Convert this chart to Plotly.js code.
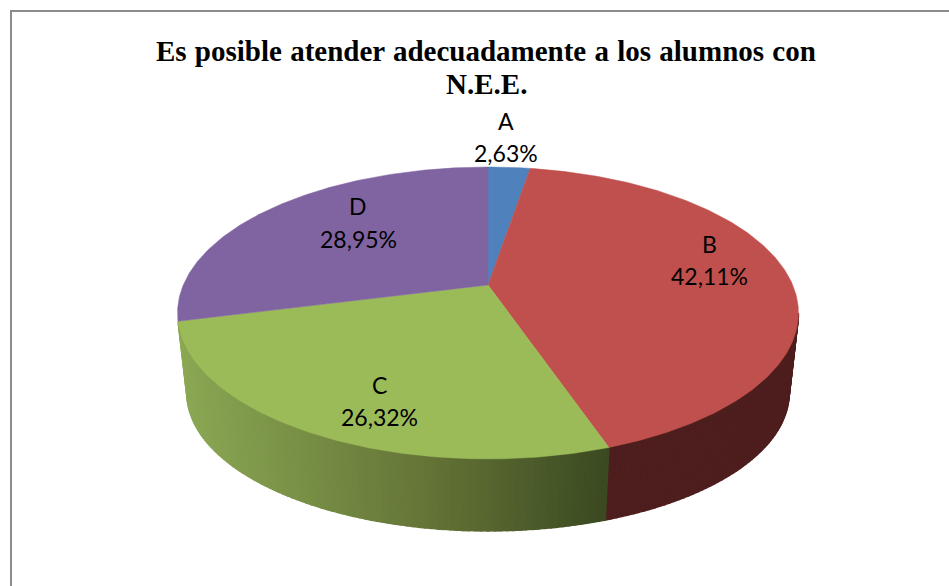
<!DOCTYPE html>
<html><head><meta charset="utf-8">
<script src="https://cdn.plot.ly/plotly-3.0.1.min.js"></script>
<style>html,body{margin:0;padding:0;background:#fff}#c{width:949px;height:586px}.gtitle{word-spacing:1px}</style>
</head><body><div id="c"></div>
<script>
// ---- data ----
const categories = ["A", "B", "C", "D"];
const percentages = [2.63, 42.11, 26.32, 28.95];
const titleLine1 = "Es posible atender adecuadamente a los alumnos con";
const titleLine2 = "N.E.E.";
// ---- styles ----
const topColors = ["#4f81bd", "#c0504d", "#9bbb59", "#8064a2"];
// per-category side shading: stops as [fraction of screen span, r, g, b]; null = side not shown
const sideStops = [
  null,
  [[0,77,30,29],[1,77,30,29]],
  [[0,139,168,84],[0.6,98,114,53],[1,58,73,33]],
  null
];
// ---- view of the disc (perspective) ----
const view = {cx:488, cy:285, rx:304.7, ry:140.6, p:0.1918, bottomCy:366.5, bottomSx:0.97, bottomSy:0.945};
function project(deg){
  const t = deg*Math.PI/180, u = Math.sin(t), v = Math.cos(t), d = 1 + view.p*v;
  return [view.cx + view.rx*u/d, view.cy - view.ry*v/d];
}
function projectBottom(deg){
  const q = project(deg);
  return [view.cx + (q[0]-view.cx)*view.bottomSx, view.bottomCy + (q[1]-view.cy)*view.bottomSy];
}
function shade(stops, f){
  f = Math.max(0, Math.min(1, f));
  for(let i=1;i<stops.length;i++){
    if(f<=stops[i][0]){
      const a=stops[i-1], b=stops[i], k=(f-a[0])/(b[0]-a[0]||1);
      return `rgb(${[1,2,3].map(j=>Math.round(a[j]+(b[j]-a[j])*k)).join(",")})`;
    }
  }
  const l=stops[stops.length-1];
  return `rgb(${l[1]},${l[2]},${l[3]})`;
}
const total = percentages.reduce((a,b)=>a+b,0);
const traces = [];
let start = 0;
const step = 1;
const arcs = percentages.map((val,i)=>{
  const s = start, e = start + val/total*360;
  start = e;
  return {i, s, e};
});
// sides first
arcs.forEach(({i,s,e})=>{
  if(!sideStops[i]) return;
  const n = Math.max(1, Math.ceil((e-s)/step));
  const x0 = Math.min(project(s)[0], project(e)[0]);
  const x1 = Math.max(project(s)[0], project(e)[0]);
  for(let k=0;k<n;k++){
    const a = s+(e-s)*k/n, b = s+(e-s)*(k+1)/n, mid=(a+b)/2;
    if(Math.cos(mid*Math.PI/180) > -view.p) continue;
    const p1=project(a), p2=project(b), p3=projectBottom(b), p4=projectBottom(a);
    const xm=(p1[0]+p2[0])/2;
    const c = shade(sideStops[i], (xm-x0)/((x1-x0)||1));
    traces.push({type:"scatter",mode:"lines",x:[p1[0],p2[0],p3[0],p4[0],p1[0]],y:[p1[1],p2[1],p3[1],p4[1],p1[1]],
      fill:"toself",fillcolor:c,line:{color:c,width:1.5},hoverinfo:"skip",showlegend:false});
  }
});
// top faces
arcs.forEach(({i,s,e})=>{
  const xs=[view.cx], ys=[view.cy];
  const n=Math.ceil((e-s)/0.75);
  for(let k=0;k<=n;k++){const q=project(s+(e-s)*k/n); xs.push(q[0]); ys.push(q[1]);}
  xs.push(view.cx); ys.push(view.cy);
  traces.push({type:"scatter",mode:"lines",x:xs,y:ys,fill:"toself",fillcolor:topColors[i],
    line:{color:topColors[i],width:0.5},name:categories[i],hoverinfo:"name",showlegend:false});
});
// label anchors in page pixels: [x, line-1 y, line-2 y]
const labelAnchors = [[506,121,153],[709,244,276],[379,385,417],[358,206,239]];
const annotations = [];
categories.forEach((c,i)=>{
  const txt = percentages[i].toFixed(2).replace(".",",")+"%";
  const a = labelAnchors[i];
  [[c,a[1]],[txt,a[2]]].forEach(([t,y])=>annotations.push({
    x:a[0],y:y,xref:"x",yref:"y",text:t,showarrow:false,xanchor:"center",yanchor:"middle",
    font:{family:"Lato, Carlito, sans-serif",size:23,color:"#000"}}));
});
const titleFont = {family:"Liberation Serif, Times New Roman, serif",size:29,color:"#000",weight:700};
annotations.push({x:486,y:84,xref:"x",yref:"y",text:titleLine2,showarrow:false,xanchor:"center",yanchor:"middle",font:titleFont});
const layout = {
  width:949,height:586,margin:{l:0,r:0,t:0,b:0,pad:0},
  paper_bgcolor:"#fff",plot_bgcolor:"#fff",showlegend:false,
  title:{text:titleLine1,x:0.512,xanchor:"center",y:0.9125,yanchor:"middle",font:titleFont},
  xaxis:{range:[0,949],visible:false,fixedrange:true},
  yaxis:{range:[586,0],visible:false,fixedrange:true},
  shapes:[{type:"rect",xref:"x",yref:"y",x0:11,y0:11,x1:970,y1:610,layer:"above",line:{color:"#8c8c8c",width:2}}],
  annotations
};
Plotly.newPlot("c",traces,layout,{displayModeBar:false,staticPlot:true});
</script></body></html>
